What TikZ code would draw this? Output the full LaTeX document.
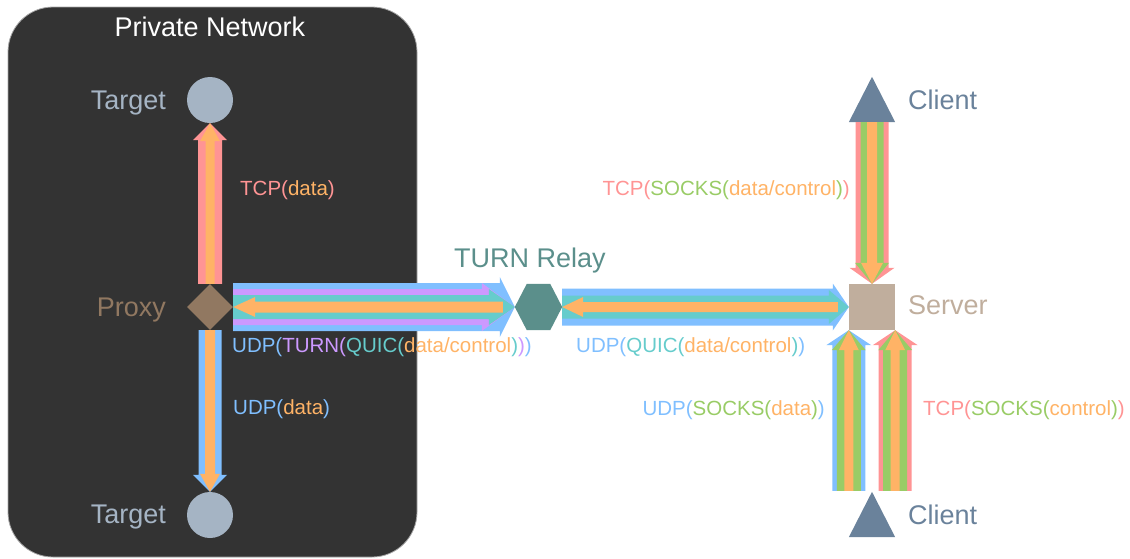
\documentclass[tikz,border=0pt]{standalone}
\usepackage{fontspec}
\setmainfont{Liberation Sans}
\usetikzlibrary{calc,shapes.geometric}
\definecolor{bgdark}{HTML}{333333}
\definecolor{ctgt}{HTML}{A5B4C4}
\definecolor{cproxy}{HTML}{917861}
\definecolor{crelay}{HTML}{5B8F8B}
\definecolor{csrv}{HTML}{C0AE9D}
\definecolor{ccli}{HTML}{6A829B}
\definecolor{cred}{HTML}{FF9494}
\definecolor{corg}{HTML}{FFB366}
\definecolor{cblue}{HTML}{80BFFF}
\definecolor{cpur}{HTML}{CC99FF}
\definecolor{cteal}{HTML}{66CCCC}
\definecolor{cgrn}{HTML}{99CC66}
% #1 colour, #2 tail, #3 tip, #4 half shaft, #5 half head, #6 head length
\newcommand{\fatarrow}[6]{%
  \coordinate (faH) at ($(#3)!#6!(#2)$);
  \fill[#1] ($(#2)!#4!90:(#3)$) -- ($(faH)!#4!90:(#3)$) -- ($(faH)!#5!90:(#3)$) -- (#3)
    -- ($(faH)!#5!-90:(#3)$) -- ($(faH)!#4!-90:(#3)$) -- ($(#2)!#4!-90:(#3)$) -- cycle;}
\begin{document}
\begin{tikzpicture}[x=1pt,y=-1pt,
  lbl/.style={font=\fontsize{20.5}{24}\selectfont, inner sep=0pt},
  big/.style={font=\fontsize{27}{32}\selectfont, inner sep=0pt},
  anchorbox/.style={draw=none, inner sep=0pt}]
\useasboundingbox (0,0) rectangle (1130,558);
% private network
\draw[fill=bgdark, draw=gray!70, line width=0.8pt, rounded corners=45pt] (8,7) rectangle (417,557);
\node[big, white, anchor=base] (pnet) at (210,36.5) {Private Network};
% nodes
\node[circle, fill=ctgt, minimum size=46pt, inner sep=0pt] (tgtA) at (210,100) {};
\node[circle, fill=ctgt, minimum size=46pt, inner sep=0pt] (tgtB) at (210,515) {};
\node[diamond, fill=cproxy, minimum width=46pt, minimum height=46pt, inner sep=0pt] (proxy) at (210,307) {};
\node[anchorbox, minimum width=47pt, minimum height=46pt] (relay) at (538.5,307) {};
\fill[crelay] (relay.west) -- ($(relay.north west)+(12,0)$) -- ($(relay.north east)+(-12,0)$) -- (relay.east)
  -- ($(relay.south east)+(-12,0)$) -- ($(relay.south west)+(12,0)$) -- cycle;
\node[rectangle, fill=csrv, minimum size=46pt, inner sep=0pt] (server) at (872,307) {};
\node[anchorbox, minimum width=46pt, minimum height=45pt] (cliA) at (872,99.5) {};
\fill[ccli] (cliA.south west) -- (cliA.north) -- (cliA.south east) -- cycle;
\node[anchorbox, minimum width=46pt, minimum height=45pt] (cliB) at (872,514.5) {};
\fill[ccli] (cliB.south west) -- (cliB.north) -- (cliB.south east) -- cycle;
% node labels
\node[big, ctgt, anchor=base east] (ltA) at (166,109.5) {Target};
\node[big, ctgt, anchor=base east] (ltB) at (166,523.5) {Target};
\node[big, cproxy, anchor=base east] (lpx) at (166,316.5) {Proxy};
\node[big, crelay, anchor=base] (lrl) at (530,267.5) {TURN Relay};
\node[big, csrv, anchor=base west] (lsv) at (908,314) {Server};
\node[big, ccli, anchor=base west] (lcA) at (908,109.5) {Client};
\node[big, ccli, anchor=base west] (lcB) at (908,524.5) {Client};
% proxy -> targets
\fatarrow{cred}{proxy.north}{tgtA.south}{12pt}{17pt}{17pt}
\fatarrow{corg}{proxy.north}{tgtA.south}{4.5pt}{10pt}{18pt}
\fatarrow{cblue}{proxy.south}{tgtB.north}{11.5pt}{17pt}{17pt}
\fatarrow{corg}{proxy.south}{tgtB.north}{5pt}{10pt}{18pt}
% proxy <-> relay
\coordinate (relayin) at ($(relay.west)+(-12,0)$);
\fatarrow{cblue}{proxy.east}{relay.west}{24pt}{30pt}{15pt}
\fatarrow{cpur}{proxy.east}{relay.west}{18pt}{24pt}{33pt}
\fatarrow{cteal}{proxy.east}{relay.west}{12pt}{18pt}{26pt}
\fatarrow{corg}{relayin}{proxy.east}{5.5pt}{10pt}{22pt}
% relay <-> server
\coordinate (srvin) at ($(server.west)+(-11,0)$);
\fatarrow{cblue}{relay.east}{server.west}{18.5pt}{23.5pt}{16pt}
\fatarrow{cteal}{relay.east}{server.west}{11.5pt}{17pt}{20pt}
\fatarrow{corg}{srvin}{relay.east}{5pt}{10pt}{21pt}
% client A -> server
\fatarrow{cred}{cliA.south}{server.north}{16.5pt}{22.5pt}{16pt}
\fatarrow{cgrn}{cliA.south}{server.north}{11.5pt}{17pt}{21pt}
\fatarrow{corg}{cliA.south}{server.north}{5pt}{11pt}{21pt}
% client B -> server
\coordinate (cbl) at ($(server.south west |- cliB.north)+(0,-1)$);
\coordinate (cbr) at ($(server.south east |- cliB.north)+(0,-1)$);
\fatarrow{cblue}{cbl}{server.south west}{16.5pt}{22.5pt}{15pt}
\fatarrow{cgrn}{cbl}{server.south west}{12pt}{17pt}{20pt}
\fatarrow{corg}{cbl}{server.south west}{4.5pt}{10pt}{20pt}
\fatarrow{cred}{cbr}{server.south east}{16.5pt}{22.5pt}{15pt}
\fatarrow{cgrn}{cbr}{server.south east}{12pt}{17pt}{20pt}
\fatarrow{corg}{cbr}{server.south east}{4.5pt}{10pt}{20pt}
% edge labels
\node[lbl, anchor=base west] (e1) at (240,195.5) {\textcolor{cred}{TCP(}\textcolor{corg}{data}\textcolor{cred}{)}};
\node[lbl, anchor=base west] (e2) at (233,414.5) {\textcolor{cblue}{UDP(}\textcolor{corg}{data}\textcolor{cblue}{)}};
\node[lbl, anchor=base west] (e3) at (232,352.5) {\textcolor{cblue}{UDP(}\textcolor{cpur}{TURN(}\textcolor{cteal}{QUIC(}\textcolor{corg}{data/control}\textcolor{cteal}{)}\textcolor{cpur}{)}\textcolor{cblue}{)}};
\node[lbl, anchor=base west] (e4) at (576,352.5) {\textcolor{cblue}{UDP(}\textcolor{cteal}{QUIC(}\textcolor{corg}{data/control}\textcolor{cteal}{)}\textcolor{cblue}{)}};
\node[lbl, anchor=base east] (e5) at (850,195.5) {\textcolor{cred}{TCP(}\textcolor{cgrn}{SOCKS(}\textcolor{corg}{data/control}\textcolor{cgrn}{)}\textcolor{cred}{)}};
\node[lbl, anchor=base east] (e6) at (825,415.5) {\textcolor{cblue}{UDP(}\textcolor{cgrn}{SOCKS(}\textcolor{corg}{data}\textcolor{cgrn}{)}\textcolor{cblue}{)}};
\node[lbl, anchor=base west] (e7) at (923,415.5) {\textcolor{cred}{TCP(}\textcolor{cgrn}{SOCKS(}\textcolor{corg}{control}\textcolor{cgrn}{)}\textcolor{cred}{)}};
\end{tikzpicture}
\end{document}
